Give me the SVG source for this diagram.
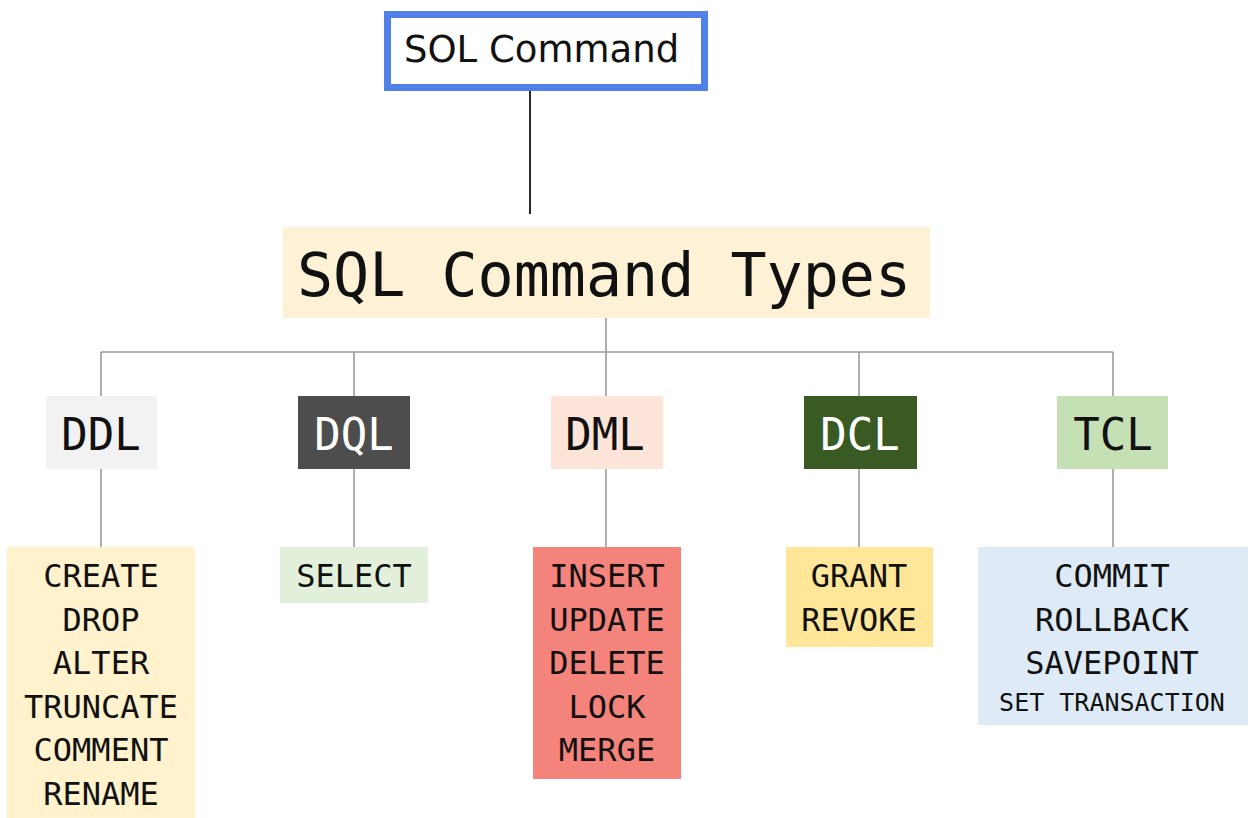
<svg xmlns="http://www.w3.org/2000/svg" width="1251" height="818" viewBox="0 0 1251 818">
<style>
.mono{font-family:"DejaVu Sans Mono","Liberation Mono",monospace;text-anchor:middle;fill:#111}
.lst{font-size:32px}
.abbr{font-size:44px}
.bus{stroke:#9a9a9a;stroke-width:1.6;fill:none}
</style>
<rect width="1251" height="818" fill="#ffffff"/>
<g id="connectors">
<line x1="530" y1="91" x2="530" y2="214" stroke="#2a2a2a" stroke-width="2"/>
<line class="bus" x1="606" y1="318" x2="606" y2="396"/>
<line class="bus" x1="101" y1="352" x2="1113" y2="352"/>
<line class="bus" x1="101" y1="352" x2="101" y2="396"/>
<line class="bus" x1="354" y1="352" x2="354" y2="396"/>
<line class="bus" x1="859" y1="352" x2="859" y2="396"/>
<line class="bus" x1="1113" y1="352" x2="1113" y2="396"/>
<line class="bus" x1="101" y1="469" x2="101" y2="547"/>
<line class="bus" x1="354" y1="469" x2="354" y2="547"/>
<line class="bus" x1="606" y1="469" x2="606" y2="547"/>
<line class="bus" x1="859" y1="469" x2="859" y2="547"/>
<line class="bus" x1="1113" y1="469" x2="1113" y2="547"/>
</g>
<g id="sql-command">
<rect x="387.5" y="14.5" width="317" height="73" fill="#ffffff" stroke="#5080e8" stroke-width="7"/>
<text x="404" y="62" font-family="DejaVu Sans,Verdana,sans-serif" font-size="37" fill="#111">SOL Command</text>
</g>
<g id="sql-command-types">
<rect x="283" y="227" width="647" height="91" fill="#fdf2d5"/>
<text class="mono" x="604" y="296" font-size="60">SQL Command Types</text>
</g>
<g id="ddl">
<rect x="46" y="396" width="111" height="73" fill="#f2f2f2"/>
<text class="mono abbr" x="101" y="450">DDL</text>
</g>
<g id="dql">
<rect x="298" y="396" width="112" height="73" fill="#4d4d4d"/>
<text class="mono abbr" x="354" y="450" style="fill:#ffffff">DQL</text>
</g>
<g id="dml">
<rect x="551" y="396" width="112" height="73" fill="#fce4d8"/>
<text class="mono abbr" x="605" y="450">DML</text>
</g>
<g id="dcl">
<rect x="804" y="396" width="113" height="73" fill="#3a5a24"/>
<text class="mono abbr" x="860" y="450" style="fill:#ffffff">DCL</text>
</g>
<g id="tcl">
<rect x="1057" y="396" width="111" height="73" fill="#c5e0b4"/>
<text class="mono abbr" x="1113" y="450">TCL</text>
</g>
<g id="ddl-list">
<rect x="7" y="547" width="188" height="271" fill="#fff2cc"/>
<text class="mono lst" x="101" y="587">CREATE</text>
<text class="mono lst" x="101" y="631">DROP</text>
<text class="mono lst" x="101" y="674">ALTER</text>
<text class="mono lst" x="101" y="718">TRUNCATE</text>
<text class="mono lst" x="101" y="761">COMMENT</text>
<text class="mono lst" x="101" y="805">RENAME</text>
</g>
<g id="dql-list">
<rect x="280" y="547" width="148" height="56" fill="#e2efda"/>
<text class="mono lst" x="354" y="587">SELECT</text>
</g>
<g id="dml-list">
<rect x="533" y="547" width="148" height="232" fill="#f4837c"/>
<text class="mono lst" x="607" y="587">INSERT</text>
<text class="mono lst" x="607" y="631">UPDATE</text>
<text class="mono lst" x="607" y="674">DELETE</text>
<text class="mono lst" x="607" y="718">LOCK</text>
<text class="mono lst" x="607" y="761">MERGE</text>
</g>
<g id="dcl-list">
<rect x="786" y="547" width="147" height="100" fill="#ffe699"/>
<text class="mono lst" x="859" y="587">GRANT</text>
<text class="mono lst" x="859" y="631">REVOKE</text>
</g>
<g id="tcl-list">
<rect x="978" y="547" width="270" height="178" fill="#deebf7"/>
<text class="mono lst" x="1112" y="587">COMMIT</text>
<text class="mono lst" x="1112" y="631">ROLLBACK</text>
<text class="mono lst" x="1112" y="674">SAVEPOINT</text>
<text class="mono" x="1112" y="711" font-size="25">SET TRANSACTION</text>
</g>
</svg>
